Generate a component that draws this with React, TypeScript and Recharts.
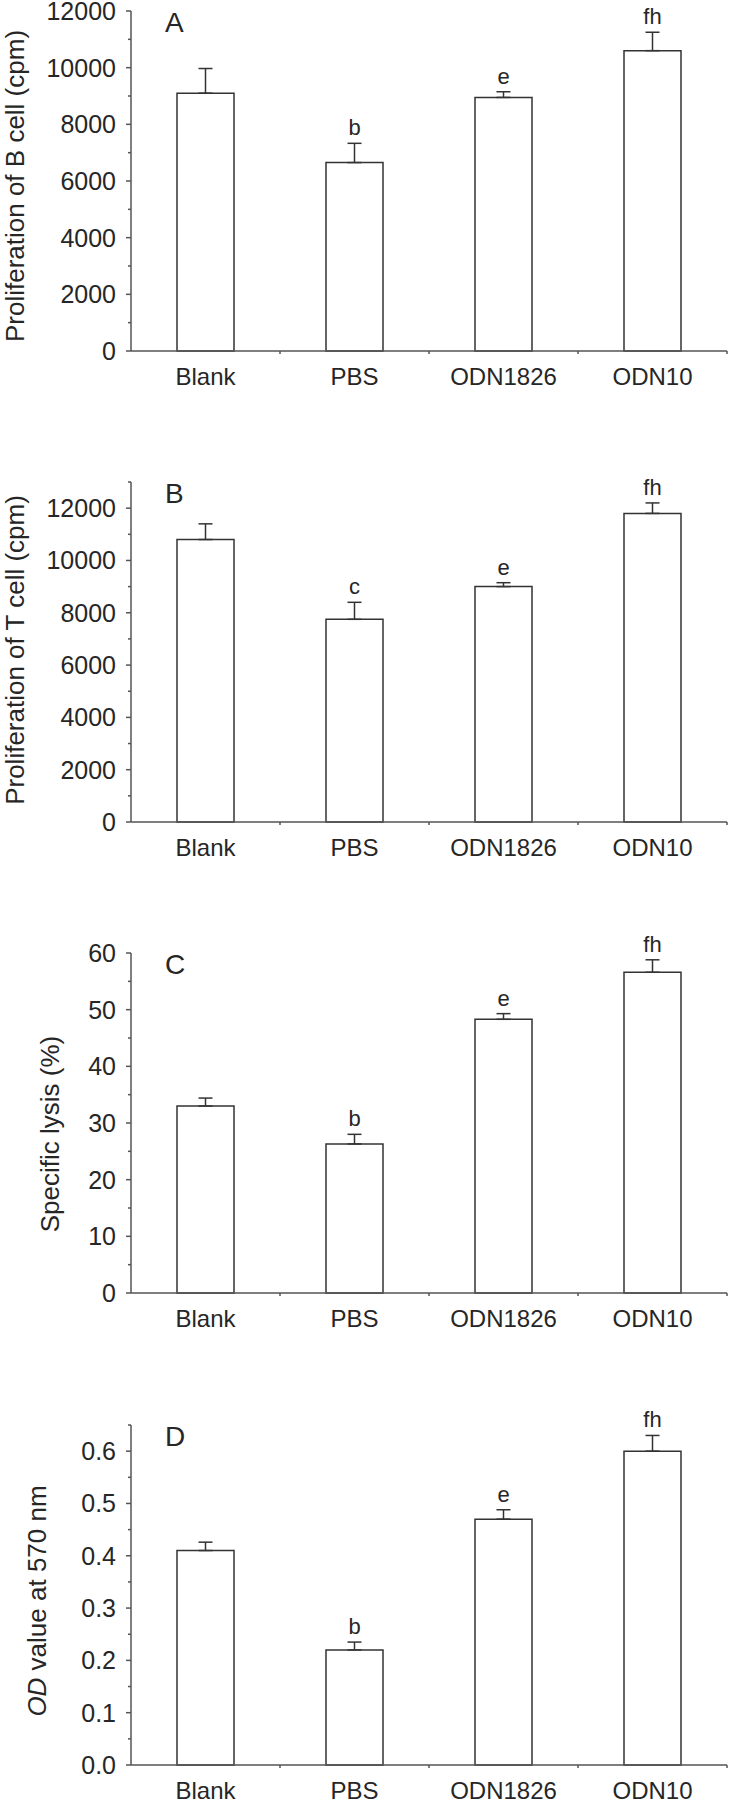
import React from 'react';
import { BarChart, Bar, XAxis, YAxis, ErrorBar, LabelList } from 'recharts';

const groups = ['Blank', 'PBS', 'ODN1826', 'ODN10'];

// A - B cell proliferation
const bCellMean = [9100, 6650, 8950, 10600];
const bCellSem = [870, 680, 200, 650];
const bCellSig = ['', 'b', 'e', 'fh'];
const bCellTicks = [0, 1000, 2000, 3000, 4000, 5000, 6000, 7000, 8000, 9000, 10000, 11000, 12000];
const bCellLabeled = [0, 2000, 4000, 6000, 8000, 10000, 12000];

// B - T cell proliferation
const tCellMean = [10800, 7750, 9000, 11800];
const tCellSem = [600, 650, 150, 400];
const tCellSig = ['', 'c', 'e', 'fh'];
const tCellTicks = [0, 1000, 2000, 3000, 4000, 5000, 6000, 7000, 8000, 9000, 10000, 11000, 12000, 13000];
const tCellLabeled = [0, 2000, 4000, 6000, 8000, 10000, 12000];

// C - specific lysis
const lysisMean = [33, 26.3, 48.3, 56.6];
const lysisSem = [1.4, 1.7, 1.0, 2.2];
const lysisSig = ['', 'b', 'e', 'fh'];
const lysisTicks = [0, 5, 10, 15, 20, 25, 30, 35, 40, 45, 50, 55, 60];
const lysisLabeled = [0, 10, 20, 30, 40, 50, 60];

// D - OD at 570 nm
const odMean = [0.41, 0.22, 0.47, 0.6];
const odSem = [0.016, 0.015, 0.018, 0.03];
const odSig = ['', 'b', 'e', 'fh'];
const odTicks = [0, 0.05, 0.1, 0.15, 0.2, 0.25, 0.3, 0.35, 0.4, 0.45, 0.5, 0.55, 0.6, 0.65];
const odLabeled = [0, 0.1, 0.2, 0.3, 0.4, 0.5, 0.6];

const W = 729;
const PLOT_LEFT = 131;
const PLOT_RIGHT = 727;
const FONT = '"Liberation Sans", Arial, sans-serif';
const INK = '#262626';
const AXIS = '#555';
const EDGE = '#333';

type PanelProps = {
  top: number;
  height: number;
  marginTop: number;
  letter: string;
  title: React.ReactNode;
  titleX: number;
  titleShift: number;
  mean: number[];
  sem: number[];
  sig: string[];
  domain: [number, number];
  ticks: number[];
  labeled: number[];
  fmt: (v: number) => string;
};

function Panel(p: PanelProps) {
  const data = groups.map((g, i) => ({
    group: g,
    mean: p.mean[i],
    sem: p.sem[i],
    range: [0, p.sem[i]],
    sig: p.sig[i],
  }));
  const isLabeled = (v: number) => p.labeled.some((l) => Math.abs(l - v) < 1e-9);
  const bandHalf = (PLOT_RIGHT - PLOT_LEFT) / groups.length / 2;

  return (
    <div style={{ position: 'absolute', left: 0, top: p.top }}>
      <BarChart
        width={W}
        height={p.height}
        data={data}
        margin={{ top: p.marginTop, right: W - PLOT_RIGHT, bottom: 0, left: 0 }}
      >
        <XAxis
          dataKey="group"
          height={40}
          interval={0}
          tickLine={false}
          tickSize={0}
          tickMargin={0}
          axisLine={{ stroke: AXIS, strokeWidth: 1.5 }}
          tick={(t: any) => (
            <g>
              <line x1={t.x + bandHalf} x2={t.x + bandHalf} y1={t.y} y2={t.y + 3} stroke={AXIS} strokeWidth={1.5} />
              <text x={t.x} y={t.y + 26} dy="0.35em" textAnchor="middle" fontSize={24} fill={INK} fontFamily={FONT}>
                {t.payload.value}
              </text>
            </g>
          )}
        />
        <YAxis
          type="number"
          width={PLOT_LEFT}
          domain={p.domain}
          ticks={p.ticks}
          interval={0}
          tickLine={false}
          tickSize={0}
          tickMargin={0}
          axisLine={{ stroke: AXIS, strokeWidth: 1.5 }}
          tick={(t: any) => {
            const major = isLabeled(t.payload.value);
            return (
              <g>
                <line x1={PLOT_LEFT - (major ? 5 : 3)} x2={PLOT_LEFT} y1={t.y} y2={t.y} stroke={AXIS} strokeWidth={1.5} />
                {major && (
                  <text x={PLOT_LEFT - 15} y={t.y} dy="0.36em" textAnchor="end" fontSize={25} fill={INK} fontFamily={FONT}>
                    {p.fmt(t.payload.value)}
                  </text>
                )}
              </g>
            );
          }}
          label={(lp: any) => {
            const vb = lp.viewBox || {};
            const cy = vb.y + vb.height / 2 + p.titleShift;
            return (
              <g>
                <text
                  x={p.titleX}
                  y={cy}
                  dy="0.35em"
                  textAnchor="middle"
                  transform={`rotate(-90, ${p.titleX}, ${cy})`}
                  fontSize={26}
                  fill={INK}
                  fontFamily={FONT}
                >
                  {p.title}
                </text>
                <text x={PLOT_LEFT + 34} y={vb.y + 21} fontSize={28} fill={INK} fontFamily={FONT}>
                  {p.letter}
                </text>
              </g>
            );
          }}
        />
        <Bar dataKey="mean" stackId="s" fill="#fff" stroke={EDGE} strokeWidth={1.5} barSize={57} isAnimationActive={false}>
          <ErrorBar dataKey="range" width={7} stroke={EDGE} strokeWidth={1.5} isAnimationActive={false} />
        </Bar>
        <Bar dataKey="sem" stackId="s" fill="none" stroke="none" barSize={57} isAnimationActive={false}>
          <LabelList dataKey="sig" position="top" offset={8} fontSize={22} fill={INK} fontFamily={FONT} />
        </Bar>
      </BarChart>
    </div>
  );
}

export default function App() {
  return (
    <div style={{ position: 'absolute', left: 0, top: 0, width: W, height: 1801, background: '#fff' }}>
      <Panel
        top={0}
        height={391}
        marginTop={11}
        letter="A"
        title="Proliferation of B cell (cpm)"
        titleX={15}
        titleShift={5}
        mean={bCellMean}
        sem={bCellSem}
        sig={bCellSig}
        domain={[0, 12000]}
        ticks={bCellTicks}
        labeled={bCellLabeled}
        fmt={(v) => String(v)}
      />
      <Panel
        top={450}
        height={412}
        marginTop={32}
        letter="B"
        title="Proliferation of T cell (cpm)"
        titleX={15}
        titleShift={-2}
        mean={tCellMean}
        sem={tCellSem}
        sig={tCellSig}
        domain={[0, 13000]}
        ticks={tCellTicks}
        labeled={tCellLabeled}
        fmt={(v) => String(v)}
      />
      <Panel
        top={920}
        height={413}
        marginTop={33}
        letter="C"
        title="Specific lysis (%)"
        titleX={50}
        titleShift={11}
        mean={lysisMean}
        sem={lysisSem}
        sig={lysisSig}
        domain={[0, 60]}
        ticks={lysisTicks}
        labeled={lysisLabeled}
        fmt={(v) => String(v)}
      />
      <Panel
        top={1393}
        height={412}
        marginTop={32}
        letter="D"
        title={
          <>
            <tspan fontStyle="italic">OD</tspan> value at 570 nm
          </>
        }
        titleX={37}
        titleShift={6}
        mean={odMean}
        sem={odSem}
        sig={odSig}
        domain={[0, 0.65]}
        ticks={odTicks}
        labeled={odLabeled}
        fmt={(v) => v.toFixed(1)}
      />
    </div>
  );
}
